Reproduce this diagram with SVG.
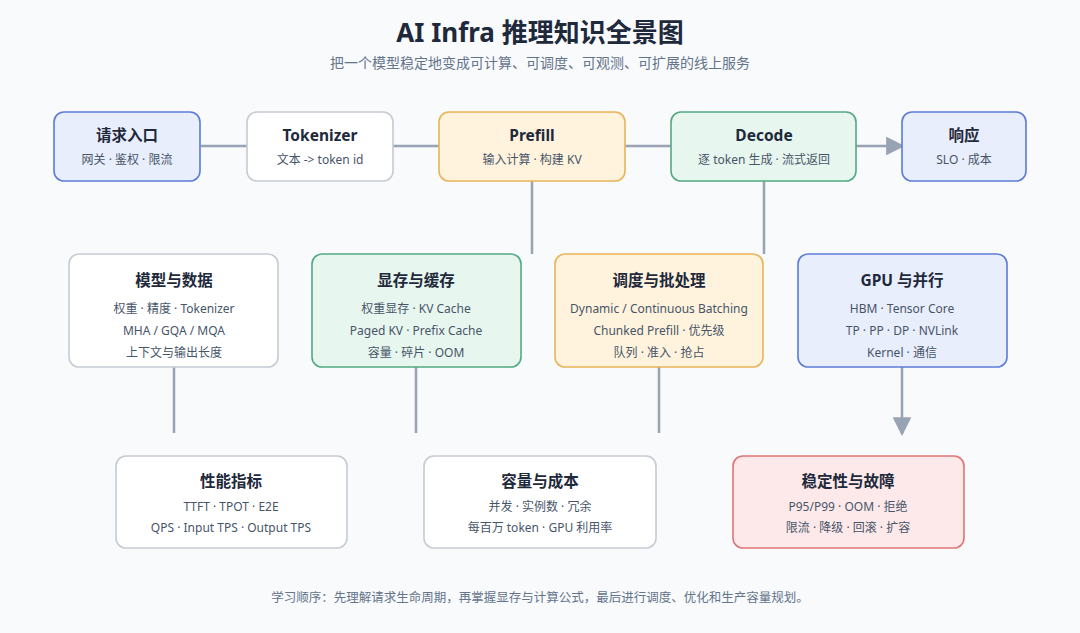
<svg xmlns="http://www.w3.org/2000/svg" width="1080" height="633" viewBox="0 0 1080 633">
<defs>
<style>
text{font-family:"Noto Sans","Noto Sans CJK SC",sans-serif;text-anchor:middle}
.title{font-size:26px;font-weight:700;fill:#1e293b}
.sub{font-size:14px;fill:#64748b}
.nt{font-size:15.5px;font-weight:700;fill:#1e293b}
.nd{font-size:12px;fill:#475569}
.foot{font-size:12.5px;fill:#64748b}
.box{stroke-width:1.6}
.w{fill:#ffffff;stroke:#c6cbd3}
.b{fill:#e9eefc;stroke:#5d7bd8}
.o{fill:#fff3dd;stroke:#e9b457}
.g{fill:#e7f6ee;stroke:#53a982}
.r{fill:#fde9e9;stroke:#e07575}
.ln{stroke:#98a3b3;stroke-width:2.5;fill:none}
</style>
<marker id="ah" viewBox="0 0 10 10" refX="9" refY="5" markerWidth="7.5" markerHeight="7.5" markerUnits="strokeWidth" orient="auto"><path d="M0,0 L10,5 L0,10 z" fill="#98a3b3"/></marker>
</defs>
<rect width="1080" height="633" fill="#f8fafc"/>
<text class="title" x="540" y="42">AI Infra 推理知识全景图</text>
<text class="sub" x="540" y="68">把一个模型稳定地变成可计算、可调度、可观测、可扩展的线上服务</text>

<g id="connectors">
<line class="ln" x1="201" y1="146" x2="247" y2="146"/>
<line class="ln" x1="393" y1="146" x2="439" y2="146"/>
<line class="ln" x1="625" y1="146" x2="671" y2="146"/>
<line class="ln" x1="856" y1="146" x2="903" y2="146" marker-end="url(#ah)"/>
<line class="ln" x1="532" y1="181" x2="532" y2="254"/>
<line class="ln" x1="764" y1="181" x2="764" y2="254"/>
<line class="ln" x1="174" y1="367" x2="174" y2="433"/>
<line class="ln" x1="416" y1="367" x2="416" y2="433"/>
<line class="ln" x1="659" y1="367" x2="659" y2="433"/>
<line class="ln" x1="902" y1="367" x2="902" y2="434" marker-end="url(#ah)"/>
</g>

<g id="node-entry"><rect class="box b" x="54" y="112" width="146" height="69" rx="10"/><text class="nt" x="127" y="141">请求入口</text><text class="nd" x="127" y="164">网关 · 鉴权 · 限流</text></g>
<g id="node-tokenizer"><rect class="box w" x="247" y="112" width="146" height="69" rx="10"/><text class="nt" x="320" y="141">Tokenizer</text><text class="nd" x="320" y="164">文本 -&gt; token id</text></g>
<g id="node-prefill"><rect class="box o" x="439" y="112" width="186" height="69" rx="10"/><text class="nt" x="532" y="141">Prefill</text><text class="nd" x="532" y="164">输入计算 · 构建 KV</text></g>
<g id="node-decode"><rect class="box g" x="671" y="112" width="185" height="69" rx="10"/><text class="nt" x="764" y="141">Decode</text><text class="nd" x="764" y="164">逐 token 生成 · 流式返回</text></g>
<g id="node-response"><rect class="box b" x="902" y="112" width="124" height="69" rx="10"/><text class="nt" x="964" y="141">响应</text><text class="nd" x="964" y="164">SLO · 成本</text></g>

<g id="node-model"><rect class="box w" x="69" y="254" width="209" height="113" rx="10"/><text class="nt" x="174" y="286">模型与数据</text><text class="nd" x="174" y="313">权重 · 精度 · Tokenizer</text><text class="nd" x="174" y="335">MHA / GQA / MQA</text><text class="nd" x="174" y="357">上下文与输出长度</text></g>
<g id="node-memory"><rect class="box g" x="312" y="254" width="209" height="113" rx="10"/><text class="nt" x="416" y="286">显存与缓存</text><text class="nd" x="416" y="313">权重显存 · KV Cache</text><text class="nd" x="416" y="335">Paged KV · Prefix Cache</text><text class="nd" x="416" y="357">容量 · 碎片 · OOM</text></g>
<g id="node-sched"><rect class="box o" x="555" y="254" width="208" height="113" rx="10"/><text class="nt" x="659" y="286">调度与批处理</text><text class="nd" x="659" y="313">Dynamic / Continuous Batching</text><text class="nd" x="659" y="335">Chunked Prefill · 优先级</text><text class="nd" x="659" y="357">队列 · 准入 · 抢占</text></g>
<g id="node-gpu"><rect class="box b" x="798" y="254" width="209" height="113" rx="10"/><text class="nt" x="902" y="286">GPU 与并行</text><text class="nd" x="902" y="313">HBM · Tensor Core</text><text class="nd" x="902" y="335">TP · PP · DP · NVLink</text><text class="nd" x="902" y="357">Kernel · 通信</text></g>

<g id="node-perf"><rect class="box w" x="116" y="456" width="231" height="92" rx="10"/><text class="nt" x="231" y="487">性能指标</text><text class="nd" x="231" y="511">TTFT · TPOT · E2E</text><text class="nd" x="231" y="532">QPS · Input TPS · Output TPS</text></g>
<g id="node-capacity"><rect class="box w" x="424" y="456" width="232" height="92" rx="10"/><text class="nt" x="540" y="487">容量与成本</text><text class="nd" x="540" y="511">并发 · 实例数 · 冗余</text><text class="nd" x="540" y="532">每百万 token · GPU 利用率</text></g>
<g id="node-stability"><rect class="box r" x="733" y="456" width="231" height="92" rx="10"/><text class="nt" x="848" y="487">稳定性与故障</text><text class="nd" x="848" y="511">P95/P99 · OOM · 拒绝</text><text class="nd" x="848" y="532">限流 · 降级 · 回滚 · 扩容</text></g>

<text class="foot" x="540" y="602">学习顺序：先理解请求生命周期，再掌握显存与计算公式，最后进行调度、优化和生产容量规划。</text>
</svg>
